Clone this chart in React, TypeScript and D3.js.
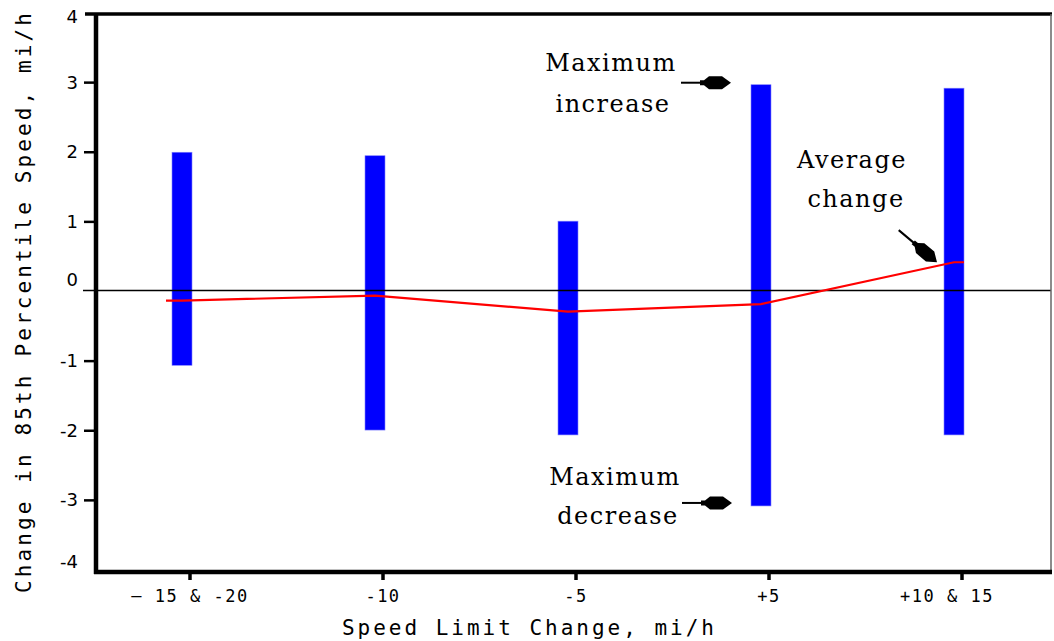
import React from "react";
import * as d3 from "d3";

const categories = ["– 15 & -20", "-10", "-5", "+5", "+10 & 15"];
const maxIncrease = [2.0, 1.95, 1.01, 2.97, 2.92];
const maxDecrease = [-1.06, -1.99, -2.06, -3.08, -2.06];
const averageChange = [-0.13, -0.06, -0.29, -0.18, 0.42];
const yTicks = [4, 3, 2, 1, 0, -1, -2, -3, -4];
const yTitle = "Change in 85th Percentile Speed, mi/h";
const xTitle = "Speed Limit Change, mi/h";

const W = 1054;
const H = 641;
const plotLeft = 96;
const plotRight = 1051;
const plotTop = 14;
const plotBottom = 572;

const monoFont = "'DejaVu Sans Mono', monospace";
const serifFont = "'DejaVu Serif', serif";

function Arrow({ x, y, angle }: { x: number; y: number; angle: number }) {
  return (
    <g transform={`translate(${x},${y}) rotate(${angle})`}>
      <line x1={-50} y1={0} x2={-29} y2={0} stroke="#000" strokeWidth={2} />
      <path
        d="M0,0 L-9,-6.5 L-22,-6.5 L-27,-2.5 L-31,-2.5 L-31,2.5 L-27,2.5 L-22,6.5 L-9,6.5 Z"
        fill="#000"
      />
    </g>
  );
}

export default function App() {
  const x = d3.scalePoint<string>().domain(categories).range([190, 962]);
  const y = d3.scaleLinear().domain([-4, 4]).range([plotBottom - 2, plotTop - 1]);
  const barW = 20;
  const barOff = -18;

  const linePts: [number, number][] = [];
  linePts.push([(x(categories[0]) as number) + barOff - 6, y(averageChange[0])]);
  categories.forEach((c, i) => {
    linePts.push([(x(c) as number) + barOff + barW / 2, y(averageChange[i])]);
  });
  linePts.push([
    (x(categories[categories.length - 1]) as number) + barOff + barW,
    y(averageChange[averageChange.length - 1]),
  ]);
  const lineGen = d3.line();

  const upTip = { x: (x(categories[3]) as number) + barOff - 20, y: y(maxIncrease[3]) - 2 };
  const downTip = { x: (x(categories[3]) as number) + barOff - 19, y: y(maxDecrease[3]) - 3 };
  const avgTip = { x: (x(categories[4]) as number) + barOff - 7, y: y(averageChange[4]) };

  const annStyle = { fontFamily: serifFont, fontSize: 24, letterSpacing: 1.5 } as const;

  return (
    <svg
      width={W}
      height={H}
      style={{ position: "absolute", left: 0, top: 0, background: "#fff" }}
    >
      <rect x={0} y={0} width={W} height={H} fill="#fff" />
      {/* bars */}
      {categories.map((c, i) => (
        <rect
          key={c}
          x={(x(c) as number) + barOff}
          y={y(maxIncrease[i])}
          width={barW}
          height={y(maxDecrease[i]) - y(maxIncrease[i])}
          fill="#0000ff"
          stroke="#8080ff"
          strokeWidth={0.6}
        />
      ))}
      {/* zero line */}
      <line x1={83} x2={plotRight} y1={y(0) - 1} y2={y(0) - 1} stroke="#000" strokeWidth={1.6} />
      {/* average line */}
      <path d={lineGen(linePts) || ""} fill="none" stroke="#ff0000" strokeWidth={2.2} />
      {/* frame */}
      <line x1={85} x2={plotRight + 1} y1={plotTop} y2={plotTop} stroke="#000" strokeWidth={3.5} />
      <line x1={plotRight} x2={plotRight} y1={plotTop} y2={plotBottom} stroke="#666" strokeWidth={1.5} />
      <line x1={plotLeft - 2} x2={plotRight + 1} y1={plotBottom} y2={plotBottom} stroke="#000" strokeWidth={4.5} />
      <line x1={plotLeft} x2={plotLeft} y1={plotTop - 1} y2={plotBottom + 2} stroke="#000" strokeWidth={4.5} />
      {/* y ticks */}
      {yTicks.map((t) => (
        <g key={t}>
          {t !== 4 && t !== 0 && t !== -4 && (
            <line x1={84} x2={plotLeft} y1={y(t)} y2={y(t)} stroke="#000" strokeWidth={2.5} />
          )}
          <text
            x={78}
            y={y(t)}
            dy={t === 4 ? 10 : t === -4 ? -2 : t === 0 ? -6 : 6}
            textAnchor="end"
            fontFamily="'DejaVu Sans', sans-serif"
            fontSize={18}
            fill="#000"
          >
            {t}
          </text>
        </g>
      ))}
      {/* x ticks */}
      {categories.map((c) => (
        <g key={c}>
          <line
            x1={x(c) as number}
            x2={x(c) as number}
            y1={plotBottom}
            y2={plotBottom + 8}
            stroke="#000"
            strokeWidth={3.5}
          />
          <text
            x={(x(c) as number) + (c === categories[4] ? -15 : 0)}
            y={602}
            textAnchor="middle"
            fontFamily={monoFont}
            fontSize={17}
            letterSpacing={1.5}
            fill="#000"
          >
            {c}
          </text>
        </g>
      ))}
      {/* axis titles */}
      <text
        x={528}
        y={635}
        textAnchor="middle"
        fontFamily={monoFont}
        fontSize={21}
        textLength={372}
        lengthAdjust="spacing"
        fill="#000"
      >
        {xTitle}
      </text>
      <text
        transform={`translate(31,303) rotate(-90)`}
        textAnchor="middle"
        fontFamily={monoFont}
        fontSize={21}
        textLength={580}
        lengthAdjust="spacing"
        fill="#000"
      >
        {yTitle}
      </text>
      {/* annotations */}
      <text x={upTip.x - 120} y={upTip.y - 12} textAnchor="middle" {...annStyle}>Maximum</text>
      <text x={upTip.x - 118} y={upTip.y + 29} textAnchor="middle" {...annStyle}>increase</text>
      <Arrow x={upTip.x} y={upTip.y} angle={0} />

      <text x={downTip.x - 117} y={downTip.y - 18} textAnchor="middle" {...annStyle}>Maximum</text>
      <text x={downTip.x - 114} y={downTip.y + 21} textAnchor="middle" {...annStyle}>decrease</text>
      <Arrow x={downTip.x} y={downTip.y} angle={0} />

      <text x={avgTip.x - 85} y={avgTip.y - 94} textAnchor="middle" {...annStyle}>Average</text>
      <text x={avgTip.x - 81} y={avgTip.y - 55} textAnchor="middle" {...annStyle}>change</text>
      <Arrow x={avgTip.x} y={avgTip.y} angle={40} />
    </svg>
  );
}
